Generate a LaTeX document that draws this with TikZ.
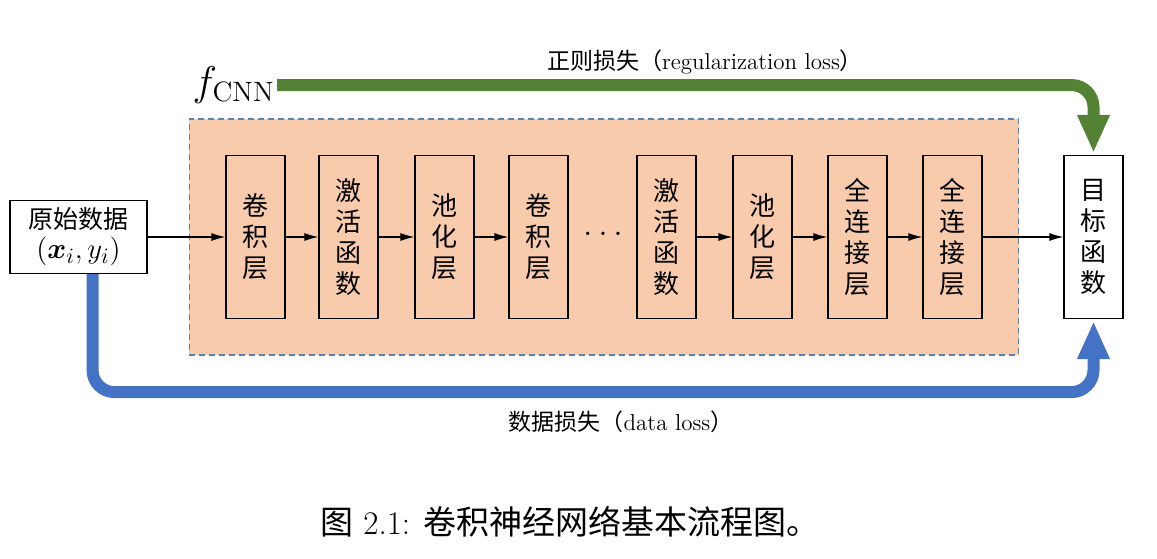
\documentclass[tikz,border=0pt]{standalone}
\usepackage{amsmath,amssymb}
\usepackage{fontspec}
\newfontfamily\cjk{Noto Sans CJK SC}
\usepackage{tikz}
\usetikzlibrary{arrows.meta,positioning,fit,backgrounds}
\definecolor{lossgreen}{HTML}{548235}
\definecolor{lossblue}{HTML}{4472C4}
\definecolor{cnnfill}{HTML}{F8CBAD}
\definecolor{cnndash}{HTML}{5A82B0}

\begin{document}
\begin{tikzpicture}[x=0.5pt, y=-0.5pt,
    layerbox/.style={draw, line width=0.6pt, minimum width=29.5pt, minimum height=81.5pt,
        inner sep=0pt, align=center, font=\cjk\fontsize{13}{15.5}\selectfont},
    plainbox/.style={draw, line width=0.6pt, minimum width=68.5pt, minimum height=36.5pt,
        inner sep=1pt, align=center, font=\cjk\fontsize{12.5}{15}\selectfont},
    cnnframe/.style={draw=cnndash, fill=cnnfill, line width=0.7pt, dash pattern=on 3pt off 2pt, inner sep=18pt},
    flowarrow/.style={line width=0.6pt, -{Latex[length=7pt,width=4pt]}},
    regloss/.style={line width=6pt, lossgreen, rounded corners=11pt, shorten >=1pt, -{Triangle[width=15pt,length=19pt]}},
    dataloss/.style={line width=6pt, lossblue, rounded corners=11pt, shorten >=1pt, -{Triangle[width=15pt,length=19pt]}},
    losslabel/.style={font=\fontsize{11.5}{14}\selectfont}]
    \useasboundingbox (0,0) rectangle (1157,558);

    % Layers of the network
    \foreach \x/\name/\txt in {255.5/l1/卷\\积\\层, 348.5/l2/激\\活\\函\\数, 444.5/l3/池\\化\\层,
        538.5/l4/卷\\积\\层, 666.5/l5/激\\活\\函\\数, 762.5/l6/池\\化\\层,
        857.5/l7/全\\连\\接\\层, 952.5/l8/全\\连\\接\\层} {
        \node[layerbox] (\name) at (\x,237) {\txt};
    }
    \node[font=\fontsize{16}{18}\selectfont] (dots) at (603,234) {$\ldots$};

    % Input and objective
    \node[plainbox] (rawdata) at (78.5,237) {原始数据\\[0pt]{\fontsize{15}{16}\selectfont$(\boldsymbol{x}_i,y_i)$}};
    \node[layerbox] (objfun) at (1093.5,237) {目\\标\\函\\数};
    \node[anchor=east, inner sep=1pt, font=\fontsize{20}{22}\selectfont] (fcnn) at (277,85) {$f_{\mathrm{CNN}}$};

    % CNN frame
    \begin{scope}[on background layer]
        \node[cnnframe, fit=(l1)(l8)] (cnn) {};
    \end{scope}

    % Forward flow
    \foreach \a/\b in {rawdata/l1, l1/l2, l2/l3, l3/l4, l5/l6, l6/l7, l7/l8, l8/objfun} {
        \draw[flowarrow] (\a.east) -- (\b.west);
    }

    % Losses
    \draw[regloss] (fcnn.east) -| (objfun.north);
    \node[losslabel] (reglabel) at (705,62) {{\cjk 正则损失（}regularization loss{\cjk ）}};
    \draw[dataloss] ([xshift=7pt]rawdata.south) -- ++(0,118) -| (objfun.south);
    \node[losslabel] (datalabel) at (621,422) {{\cjk 数据损失（}data loss{\cjk ）}};

    % Caption
    \node[font=\fontsize{16.5}{18}\selectfont] (caption) at (570,522) {{\cjk 图} 2.1: {\cjk 卷积神经网络基本流程图。}};
\end{tikzpicture}
\end{document}
